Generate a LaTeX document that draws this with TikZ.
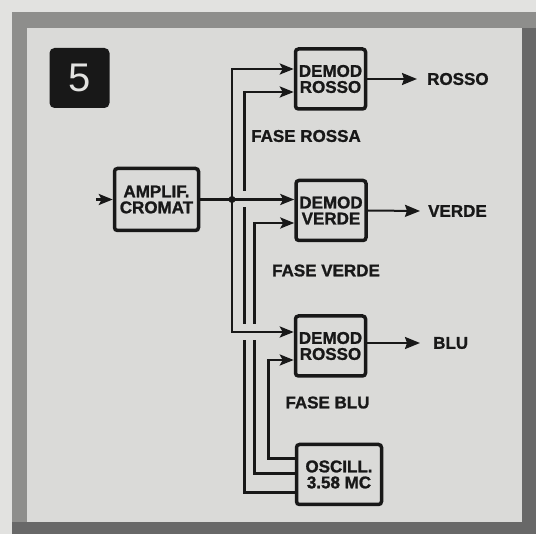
\documentclass[tikz,border=0pt]{standalone}
\usepackage{fontspec}
\setmainfont{Liberation Sans}
\newfontfamily\heavyfont[FakeBold=1.2]{Liberation Sans Bold}
\usetikzlibrary{arrows.meta,positioning,calc}
\definecolor{outergray}{RGB}{226,226,224}
\definecolor{panelgray}{RGB}{218,218,216}
\definecolor{framegray}{RGB}{142,142,140}
\definecolor{darkframe}{RGB}{104,104,104}
\definecolor{inkblack}{RGB}{24,24,24}
\tikzset{
  blk/.style={draw=inkblack,line width=3.5pt,rounded corners=3pt,align=center,
              font=\heavyfont\fontsize{17}{16}\selectfont,text=inkblack,inner sep=0pt,
              minimum width=70pt,minimum height=60pt},
  lbl/.style={font=\heavyfont\fontsize{17}{17}\selectfont,text=inkblack,inner sep=0pt},
  wire/.style={draw=inkblack,line width=2.5pt},
  arr/.style={wire,-{Stealth[length=14pt,width=11pt,inset=3pt]}},
  outarr/.style={wire,line width=2pt,-{Stealth[length=15pt,width=12pt,inset=2pt]}},
}

\begin{document}
\begin{tikzpicture}[x=1pt,y=-1pt]
  \useasboundingbox (0,0) rectangle (536,534);
  % frame and panel
  \fill[outergray] (0,0) rectangle (536,534);
  \fill[framegray] (12,12) rectangle (536,534);
  \fill[darkframe] (522,28) rectangle (536,534);
  \fill[darkframe] (12,522) rectangle (536,534);
  \fill[panelgray] (27,28) rectangle (522,522);

  \node[fill=inkblack,rounded corners=5pt,minimum size=60pt,text=outergray,
        font=\fontsize{40}{40}\selectfont] (num) at (79.5,78) {5};

  % blocks
  \node[blk,minimum width=84pt,minimum height=62pt] (amp) at (156.5,199.5) {AMPLIF.\\CROMAT};
  \node[blk] (dr) at (330.5,79) {DEMOD\\ROSSO};
  \node[blk] (dv) at (331,210.5) {DEMOD\\VERDE};
  \node[blk] (db) at (330.5,346) {DEMOD\\ROSSO};
  \node[blk,minimum width=85pt] (osc) at (339,474.5) {OSCILL.\\3.58 MC};

  % labels
  \node[lbl] (fr) at (306,136) {FASE ROSSA};
  \node[lbl] (fv) at (326,270.5) {FASE VERDE};
  \node[lbl] (fb) at (327.5,402.5) {FASE BLU};
  \node[lbl,anchor=west] (or) at (427,79) {ROSSO};
  \node[lbl,anchor=west] (ov) at (428,211) {VERDE};
  \node[lbl,anchor=west] (ob) at (433,343) {BLU};

  % subcarrier from the oscillator
  \draw[arr] ([yshift=16pt]osc.west) -- ++(-26.5,0) coordinate (k1) |- ([yshift=-14pt]db.west);
  \draw[arr] ([yshift=1pt]osc.west) -- ++(-40.5,0) coordinate (k2) |- ([yshift=-12.5pt]dv.west);
  \draw[arr] ([yshift=-18pt]osc.west) -- ++(-50.5,0) coordinate (k3) |- ([yshift=-13pt]dr.west);

  % chroma signal
  \coordinate (in) at (96,199.5);
  \coordinate (j) at (232,199.5);
  \coordinate (jb) at ([yshift=14pt]db.west);
  \foreach \p/\q in {k3/j,k3/jb,k2/jb}
    \fill[panelgray] ($(\p |- \q)+(-4.5,-8)$) rectangle ++(9,16);
  \draw[arr] (in) -- (amp);
  \draw[wire] (amp) -- (j);
  \draw[arr] (j) -- (j -| dv.west);
  \draw[arr] (j) |- ([yshift=10pt]dr.west);
  \draw[arr] (j) |- (jb);
  \fill[inkblack] (j) circle (3.5pt);

  % outputs
  \draw[outarr] (dr.east) -- ([xshift=-10pt]or.west);
  \draw[outarr] (dv.east) -- ([xshift=-8pt]ov.west);
  \draw[outarr] (ob.west -| db.east) -- ([xshift=-13pt]ob.west);
\end{tikzpicture}
\end{document}
